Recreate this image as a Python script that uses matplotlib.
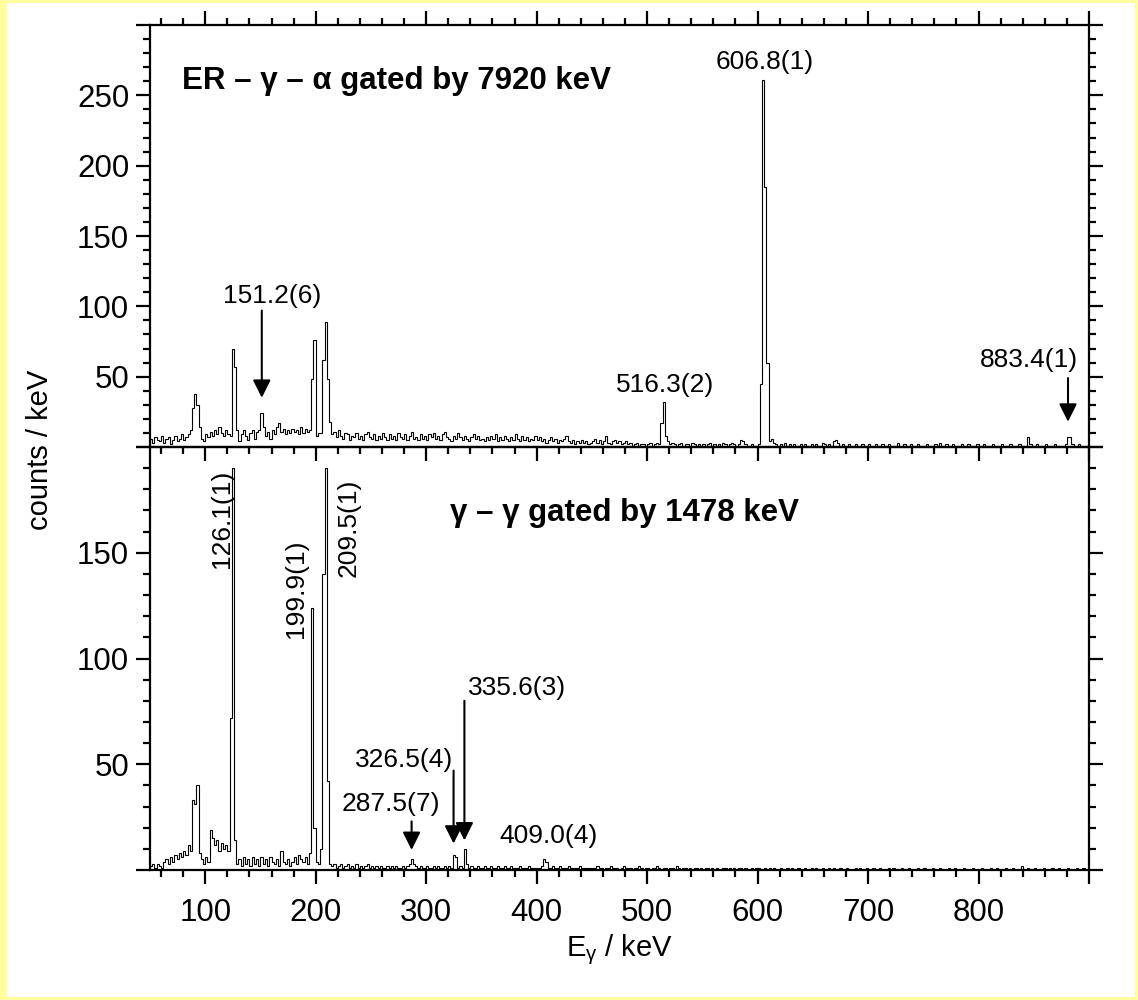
import numpy as np
import matplotlib
matplotlib.use("Agg")
import matplotlib.pyplot as plt
from matplotlib.patches import Rectangle
from matplotlib.ticker import MultipleLocator, FuncFormatter

plt.rcParams['font.family'] = ['Liberation Sans', 'DejaVu Sans']
plt.rcParams['mathtext.default'] = 'regular'

# ---------------- data ----------------
bin_start = 50.0   # keV
bin_width = 2.0    # keV

# ER - gamma - alpha gated by 7920 keV (counts / keV), 2-keV bins from 50 keV
top_counts = [
    6, 3, 7, 5, 4, 8, 3, 6, 7, 2, 5, 8, 4, 6, 9, 5, 7, 9, 12, 28, 38, 30, 14, 6, 4,
    9, 7, 11, 8, 12, 9, 14, 10, 8, 12, 9, 8, 70, 57, 12, 4, 9, 12, 8, 5, 10, 12, 6, 11, 12,
    24, 14, 8, 11, 6, 12, 9, 14, 17, 11, 13, 9, 12, 10, 13, 11, 12, 9, 14, 10, 13, 11, 12, 48, 76,
    8, 10, 10, 62, 89, 48, 18, 9, 11, 7, 12, 8, 6, 10, 9, 5, 8, 7, 10, 6, 8, 5, 9, 11, 7,
    6, 9, 5, 8, 6, 10, 7, 5, 9, 6, 8, 5, 10, 7, 6, 9, 5, 8, 11, 6, 7, 5, 9, 6, 8,
    5, 9, 7, 10, 6, 8, 5, 9, 11, 7, 6, 4, 8, 6, 10, 7, 5, 8, 6, 4, 7, 9, 6, 8, 5,
    6, 4, 7, 5, 8, 6, 9, 4, 7, 5, 8, 6, 4, 7, 5, 9, 6, 4, 8, 5, 7, 4, 6, 5, 8,
    5, 7, 4, 6, 3, 5, 7, 4, 6, 3, 5, 4, 6, 8, 4, 3, 5, 2, 4, 3, 5, 3, 4, 2, 3,
    4, 6, 3, 5, 2, 4, 8, 3, 2, 4, 5, 3, 4, 2, 3, 4, 2, 3, 1, 2, 3, 1, 2, 2, 1,
    2, 3, 1, 2, 3, 2, 17, 32, 8, 4, 2, 3, 2, 1, 2, 3, 1, 2, 2, 1, 3, 2, 1, 2, 1,
    2, 1, 2, 3, 1, 2, 1, 2, 1, 3, 2, 1, 2, 3, 2, 1, 2, 5, 4, 2, 1, 1, 2, 1, 1,
    2, 45, 261, 185, 60, 4, 6, 3, 2, 1, 2, 1, 3, 1, 2, 1, 2, 1, 1, 2, 1, 2, 1, 1, 2,
    1, 2, 1, 1, 3, 2, 1, 2, 1, 4, 5, 3, 1, 2, 1, 1, 2, 1, 1, 2, 1, 1, 2, 1, 1,
    2, 1, 1, 2, 1, 1, 2, 1, 1, 2, 1, 1, 1, 3, 1, 1, 2, 1, 1, 2, 1, 1, 2, 1, 1,
    1, 2, 1, 1, 1, 2, 1, 3, 1, 1, 2, 1, 1, 2, 1, 1, 1, 2, 1, 1, 2, 1, 1, 1, 2,
    1, 1, 2, 1, 1, 1, 2, 1, 1, 1, 2, 1, 1, 1, 2, 1, 1, 1, 2, 1, 1, 1, 7, 2, 1,
    1, 2, 1, 1, 1, 2, 1, 1, 1, 2, 1, 1, 1, 1, 2, 7, 7, 2, 1, 1, 2, 1, 1, 1, 1,
]

# gamma - gamma gated by 1478 keV (counts / keV), 2-keV bins from 50 keV
bottom_counts = [
    2, 3, 1, 3, 2, 1, 4, 5, 3, 6, 4, 7, 5, 8, 6, 9, 7, 12, 9, 33, 31, 40, 8, 5, 3,
    6, 4, 19, 15, 12, 14, 9, 13, 10, 12, 9, 72, 190, 14, 3, 5, 2, 6, 3, 5, 2, 6, 3, 5, 2,
    6, 3, 5, 2, 6, 4, 3, 5, 2, 9, 4, 3, 5, 2, 4, 6, 3, 7, 5, 4, 6, 3, 8, 124, 20,
    4, 3, 10, 140, 190, 42, 3, 2, 3, 1, 2, 3, 1, 2, 3, 1, 2, 1, 3, 1, 2, 1, 2, 3, 1,
    2, 1, 2, 1, 2, 1, 1, 2, 1, 2, 1, 2, 1, 1, 2, 1, 2, 3, 5, 3, 2, 1, 2, 1, 1,
    2, 1, 1, 2, 1, 2, 1, 1, 2, 1, 2, 1, 7, 6, 1, 2, 1, 10, 3, 1, 2, 1, 1, 2, 1,
    1, 2, 1, 1, 2, 1, 1, 2, 1, 1, 2, 1, 1, 2, 1, 1, 1, 2, 1, 1, 1, 2, 1, 1, 1,
    1, 1, 2, 5, 4, 1, 1, 2, 1, 1, 2, 1, 1, 1, 2, 1, 1, 1, 1, 2, 1, 1, 1, 1, 1,
    1, 1, 2, 1, 1, 0, 1, 1, 2, 1, 1, 1, 0, 1, 2, 1, 1, 1, 0, 1, 1, 2, 1, 0, 1,
    1, 0, 1, 1, 2, 1, 0, 1, 1, 0, 1, 1, 0, 2, 1, 0, 1, 1, 0, 1, 0, 1, 1, 0, 1,
    0, 1, 1, 0, 1, 0, 1, 0, 0, 1, 1, 0, 1, 0, 1, 0, 1, 1, 0, 1, 0, 0, 1, 0, 1,
    1, 0, 0, 1, 0, 1, 0, 1, 0, 0, 1, 0, 0, 1, 0, 1, 0, 0, 1, 0, 0, 1, 0, 0, 1,
    0, 1, 0, 0, 1, 0, 0, 1, 0, 1, 0, 0, 1, 0, 0, 1, 0, 0, 0, 1, 0, 1, 0, 0, 1,
    0, 0, 1, 0, 0, 1, 0, 0, 0, 1, 0, 1, 0, 0, 0, 1, 0, 0, 1, 0, 0, 0, 1, 0, 0,
    1, 0, 0, 0, 1, 0, 0, 1, 0, 0, 0, 1, 0, 0, 1, 0, 0, 0, 1, 0, 0, 0, 1, 0, 0,
    0, 1, 0, 0, 0, 1, 0, 0, 1, 0, 0, 0, 1, 0, 0, 1, 0, 0, 0, 2, 0, 0, 1, 0, 0,
    1, 0, 0, 0, 1, 0, 0, 0, 1, 0, 0, 1, 0, 0, 0, 1, 0, 0, 0, 1, 0, 0, 1, 0, 0,
]

# top panel labels with arrows: (text, text_x, text_y, arrow energy, tail, tip)
top_arrow_labels = [
    ("151.2(6)", 161.0, 107, 151.2, 97, 35),
    ("883.4(1)", 846.0, 62, 881.0, 49, 18),
]
# plain labels: (text, x, y)
top_plain_labels = [
    ("516.3(2)", 516.3, 44),
    ("606.8(1)", 606.8, 274),
]
# rotated labels: (text, x, y)
bottom_rot_labels = [
    ("126.1(1)", 115.5, 166),
    ("199.9(1)", 182.0, 133),
    ("209.5(1)", 230.0, 162),
]
bottom_arrow_labels = [
    ("287.5(7)", 268.0, 31, 286.8, 23, 9.5),
    ("326.5(4)", 280.0, 52, 324.8, 47, 12.5),
    ("335.6(3)", 382.0, 86, 334.6, 80, 14),
]
bottom_plain_labels = [
    ("409.0(4)", 410.6, 16),
]

top_title = "ER \u2013 \u03b3 \u2013 \u03b1 gated by 7920 keV"
bottom_title = "\u03b3 \u2013 \u03b3 gated by 1478 keV"

x_ticklabels = ["100", "200", "300", "400", "500", "600", "700", "800"]

# ---------------- figure ----------------
W, H = 1138, 1000
fig = plt.figure(figsize=(W / 100, H / 100), dpi=100)
fig.patch.set_facecolor('#FFFFA0')
fig.add_artist(Rectangle((7 / W, 3 / H), 1 - 10 / W, 1 - 6 / H,
                         transform=fig.transFigure, facecolor='white',
                         edgecolor='none', zorder=-10))

left = 150 / W
width = 939 / W
ax_top = fig.add_axes([left, 1 - 447 / H, width, 422 / H])
ax_bot = fig.add_axes([left, 1 - 870 / H, width, 423 / H])

edges_top = bin_start + bin_width * np.arange(len(top_counts) + 1)
edges_bot = bin_start + bin_width * np.arange(len(bottom_counts) + 1)

ax_top.stairs(top_counts, edges_top, color='black', lw=0.8)
ax_bot.stairs(bottom_counts, edges_bot, color='black', lw=0.8)

TICK_FS = 22.5
LW = 1.6
for ax in (ax_top, ax_bot):
    ax.set_xlim(50, 900)
    ax.xaxis.set_major_locator(MultipleLocator(100))
    ax.xaxis.set_minor_locator(MultipleLocator(20))
    ax.yaxis.set_major_locator(MultipleLocator(50))
    ax.yaxis.set_minor_locator(MultipleLocator(10))
    for s in ax.spines.values():
        s.set_linewidth(LW)
    ax.tick_params(which='major', length=10, width=LW, direction='out',
                   labelsize=TICK_FS)
    ax.tick_params(which='minor', length=5, width=LW, direction='out')
    ax.tick_params(axis='y', which='both', left=True, right=True,
                   labelleft=True, labelright=False, pad=5)
    ax.patch.set_alpha(0)

ax_top.set_ylim(0, 300)
ax_bot.set_ylim(0, 200)

ax_top.tick_params(axis='x', which='both', top=True, bottom=True,
                   labeltop=False, labelbottom=False)
ax_bot.tick_params(axis='x', which='both', top=False, bottom=True,
                   labeltop=False, labelbottom=True, pad=10)

ax_top.yaxis.set_major_formatter(
    FuncFormatter(lambda v, p: "" if v in (0, 300) else f"{v:.0f}"))
ax_bot.yaxis.set_major_formatter(
    FuncFormatter(lambda v, p: "" if v in (0, 200) else f"{v:.0f}"))
ax_bot.xaxis.set_major_formatter(
    FuncFormatter(lambda v, p: x_ticklabels[int(round(v / 100)) - 1]
                  if 100 <= v <= 800 else ""))

# axis labels
fig.text(40 / W, 1 - 450 / H, "counts / keV", rotation=90, ha='center',
         va='center', fontsize=21)
fig.text(619.5 / W, 1 - 950 / H, r"E$_{\gamma}$ / keV", ha='center',
         va='center', fontsize=21)

ANN_FS = 19
TITLE_FS = 22.5
arrow_kw = dict(arrowstyle='-|>,head_length=0.9,head_width=0.45',
                mutation_scale=12, lw=1.5, color='black',
                shrinkA=0, shrinkB=0)

# top panel
ax_top.text(79, 260, top_title, fontsize=TITLE_FS, fontweight='bold',
            ha='left', va='center')
for txt, tx, ty, e, tail, tip in top_arrow_labels:
    ax_top.text(tx, ty, txt, fontsize=ANN_FS, ha='center', va='center')
    ax_top.annotate('', xy=(e, tip), xytext=(e, tail), arrowprops=arrow_kw)
for txt, e, ty in top_plain_labels:
    ax_top.text(e, ty, txt, fontsize=ANN_FS, ha='center', va='center')

# bottom panel
ax_bot.text(321.5, 169, bottom_title, fontsize=TITLE_FS, fontweight='bold',
            ha='left', va='center')
for txt, ex, ty in bottom_rot_labels:
    ax_bot.text(ex, ty, txt, fontsize=ANN_FS, rotation=90,
                ha='center', va='center')
for txt, tx, ty, e, tail, tip in bottom_arrow_labels:
    ax_bot.text(tx, ty, txt, fontsize=ANN_FS, ha='center', va='center')
    ax_bot.annotate('', xy=(e, tip), xytext=(e, tail), arrowprops=arrow_kw)
for txt, e, ty in bottom_plain_labels:
    ax_bot.text(e, ty, txt, fontsize=ANN_FS, ha='center', va='center')

fig.savefig("out.png", dpi=100, facecolor=fig.get_facecolor())
